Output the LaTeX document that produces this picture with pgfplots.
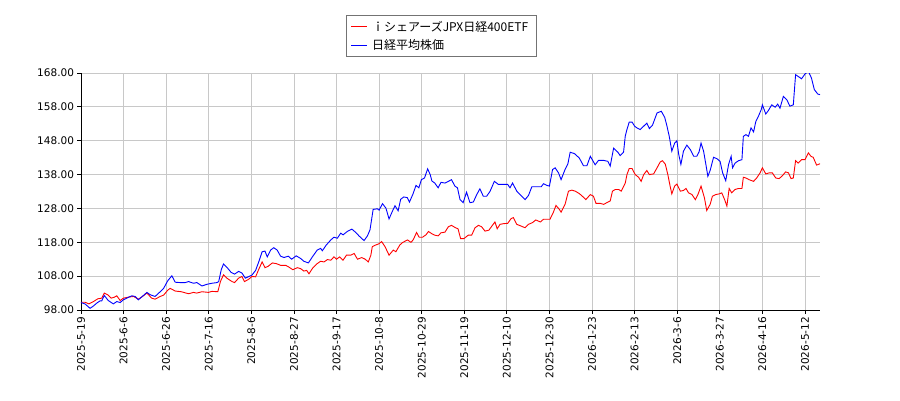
\documentclass[border=0pt]{standalone}
\usepackage{fontspec}
\setmainfont{DejaVu Sans}
\newfontfamily\cjk{Noto Sans CJK JP}
\usepackage{pgfplots}
\pgfplotsset{compat=1.18}
\definecolor{gridgray}{RGB}{200,200,200}

\begin{document}
\begin{tikzpicture}
\useasboundingbox (-81pt,-90pt) rectangle (819pt,310pt);
\begin{axis}[
    scale only axis,
    width=739pt, height=237pt,
    at={(0,0)}, anchor=south west,
    xmin=0, xmax=260.3,
    ymin=98, ymax=168,
    axis x line*=bottom, axis y line*=left,
    axis line style={black, line width=0.8pt},
    tick align=outside,
    major tick length=3.5pt,
    tick style={black, line width=0.8pt},
    xtick={0,15,...,255},
    xticklabels={2025-5-19,2025-6-6,2025-6-26,2025-7-16,2025-8-6,2025-8-27,2025-9-17,2025-10-8,2025-10-29,2025-11-19,2025-12-10,2025-12-30,2026-1-23,2026-2-13,2026-3-6,2026-3-27,2026-4-16,2026-5-12},
    x tick label style={rotate=90, anchor=east},
    ytick={98,108,...,168},
    yticklabel style={/pgf/number format/.cd, fixed, fixed zerofill, precision=2},
    /pgf/number format/assume math mode=true,
    tick label style={font=\fontsize{10.5}{12}\selectfont},
    grid=major,
    grid style={gridgray, line width=0.8pt},
    legend cell align=left,
    legend image code/.code={\draw[#1, line width=1.3pt] (0pt,0pt) -- (16pt,0pt);},
    legend style={at={(0.4878,1.2447)}, anchor=north,
        draw=black!55, fill=white, line width=0.6pt,
        font=\cjk\fontsize{12}{14}\selectfont,
        inner xsep=4pt, inner ysep=3.5pt, row sep=3pt,
        nodes={inner xsep=4pt}},
]
% iシェアーズJPX日経400ETF
\addplot[red, line width=0.9pt] coordinates {
(0,100.3) (1.4,100.3) (2.8,99.8) (4.4,100.5) (5.9,101.3) (7.3,101.5) (8.2,103) (9.4,102.5)
(10.6,101.5) (11.8,101.8) (12.6,102.2) (13.8,100.8) (14.9,101.5) (16.7,101.8) (18.5,102)
(20.2,101.2) (22,102.2) (23.2,103) (24.9,101.5) (26.1,101.2) (27.9,102) (29.1,102.4)
(30.6,103.9) (31.4,104.4) (33.2,103.6) (35.3,103.4) (37.9,102.8) (39.6,103.2) (40.8,103)
(42.6,103.4) (44.9,103.2) (46.1,103.5) (48.2,103.4) (49.1,106.4) (50.2,108.4) (51.4,107.4)
(53.2,106.4) (54.1,106.1) (55.5,107.4) (56.7,107.9) (57.6,106.4) (59.1,107.1) (60.2,107.9)
(61.5,107.8) (62.6,110) (63.8,112.2) (64.8,110.5) (65.9,110.9) (67.4,111.9) (68.8,111.7)
(70.3,111.2) (72.1,111.2) (73.2,110.7) (74.6,109.9) (76.2,110.5) (77.4,110.2) (78.5,109.5)
(79.5,109.7) (80.3,108.7) (81.7,110.5) (83.2,111.7) (84.4,112.4) (85.6,112.2) (86.8,112.9)
(88,112.7) (89.1,113.7) (90,113) (91.1,113.7) (92.3,112.7) (93.5,114.2) (95,114.2)
(96.2,114.7) (97.4,113) (98.9,113.5) (100.1,113) (101.2,112.2) (102.1,114.2) (102.6,116.7)
(103.8,117.2) (104.8,117.5) (105.9,118.2) (107.1,116.7) (108.5,114.2) (110,115.7) (110.9,115.2)
(112.3,117.2) (113.2,117.9) (115,118.7) (116.2,118) (117,118.7) (118.2,120.9) (119.1,119.5)
(120.3,119.5) (121.5,120.2) (122.4,121.2) (123.6,120.5)
(124.6,120.1) (125.8,119.9) (126.8,120.8) (128.2,121) (129.4,122.6) (130.5,123) (131.9,122.3)
(132.8,122) (133.7,119.1) (134.9,119.1) (136.4,120.1) (137.6,120.1) (138.8,122.3) (140,123)
(141.1,122.6) (142.3,121.3) (143.7,121.6) (144.9,123) (145.8,124) (146.6,122) (147.6,123.3)
(148.8,123.5) (150.3,123.6) (151.5,125) (152.3,125.3) (153.5,123.3) (155,122.8) (156.4,122.3)
(157.6,123.3) (159,123.8) (160.2,124.6) (161.8,124) (162.9,124.8) (164.1,124.8) (165.2,124.8)
(166.4,126.9) (167.3,128.9) (168.5,127.7) (169.1,126.9) (170.5,129.2) (171.7,133.1) (172.9,133.4)
(174.1,133.1) (175.5,132.4) (176.6,131.6) (177.8,130.6) (179.4,132.1) (180.5,131.6) (181.4,129.5)
(182.9,129.5) (184.1,129.2) (185.2,129.7) (186.4,130.2) (187.2,133.1) (188.2,133.6) (189.4,133.6)
(190.3,133.1)
(191.7,135.5) (192.3,138) (193.1,139.8) (194.1,139.8) (195.2,138) (196.4,137.2) (197.3,136)
(198.2,138) (199.3,139.2) (200.2,138) (201.7,138.2) (202.9,140) (204,141.7) (204.8,142.1)
(205.8,141.1) (206.7,138) (207.5,134.6) (208.1,132.3) (209.1,134.6) (209.9,135.2) (211.1,133.1)
(212.2,133.3) (213.1,133.9) (214,132.6) (215.2,132.1) (216.4,130.6) (217.3,132.1) (218.4,134.6)
(219.6,131.1) (220.4,127.4) (221.6,129.2) (222.4,131.6) (223.6,132.1) (224.8,132.3) (225.7,132.6)
(226.7,130.6) (227.5,128.7) (228.3,133.9) (229.2,132.6) (230.4,133.6) (231.6,133.9) (232.8,133.9)
(233.3,137.2) (234.2,137) (235.3,136.5) (236.9,136) (238,137) (239.2,138.5) (240,140)
(241.2,138.2) (242.4,138.5) (243.5,138.5) (244.7,137) (245.9,136.8) (247.1,137.7) (248.2,138.8)
(249.2,138.5) (250.1,136.8) (250.9,137) (251.7,142.1) (252.6,141.4) (253.8,142.4) (255,142.4)
(256.2,144.4) (257.1,143.4) (257.9,143.1) (259.1,140.8) (260.3,141.2)
};
\addlegendentry{ｉシェアーズJPX日経400ETF}
% 日経平均株価
\addplot[blue, line width=0.9pt] coordinates {
(0,100.2) (1.4,99.8) (3.2,98.5) (4.4,99.2) (5.5,100) (6.7,100.7) (7.3,100.7) (8.2,102.3)
(9.6,100.8) (11.4,99.8) (12.6,100.5) (13.8,100.2) (14.9,101) (16.1,101.5) (17.9,102.2)
(19.1,102) (20.2,101) (22,102.3) (23.2,103.2) (24.4,102.5) (26.1,102) (27.9,103.4) (29.1,104.4)
(30.6,106.7) (32,108.1) (33.2,106.2) (34.9,106.1) (36.7,106.1) (37.9,106.4) (39.6,105.9)
(40.8,106.1) (42.6,105.1) (44.4,105.6) (46.1,105.9) (47.9,106.1) (48.5,106.4) (49.4,109.9)
(50.2,111.6) (51.4,110.6) (52.9,109.1) (54.1,108.6) (55.5,109.4) (56.7,108.9) (57.9,107.4)
(59.1,107.9) (60.2,108.3)
(61.5,109.7) (62.6,112.2) (63.8,115.2) (64.8,115.4) (65.6,113.7) (66.8,115.7) (67.9,116.4)
(69.1,115.7) (70.3,113.9) (71.5,113.5) (73,113.9) (74.2,113) (75.8,114) (77.4,113.2) (78.5,112.4)
(80.1,111.9) (81.5,113.7) (83.2,115.7) (84.4,116.2) (85,115.5) (86.4,117.2) (88,118.7) (89.1,119.5)
(90.3,119.2) (91.5,120.7) (92.3,120.2) (93.8,121.2) (95.4,121.9) (96.8,120.9) (97.9,119.9)
(99.7,118.5) (100.9,119.9) (101.8,121.7) (102.9,127.7) (104.4,127.9) (105,127.5) (106.2,129.4)
(107.4,128.1) (108.5,124.9) (109.7,127.2) (110.6,128.8) (111.7,127.3) (112.6,130.7) (113.7,131.4)
(114.9,131.2) (115.7,129.9) (116.9,132.2) (118,134.8) (119,134.1) (119.9,136.5) (121,137)
(122.1,139.7) (123,138) (123.6,136.1)
(124.6,135.5) (125.8,134.1) (126.8,135.7) (128.2,135.5) (129.4,136) (130.5,136.5) (131.7,134.6)
(132.6,134.1) (133.5,130.6) (134.6,129.7) (135.8,132.8) (137,129.7) (138.2,129.9) (139.4,132.1)
(140.5,133.8) (141.7,131.6) (142.9,131.6) (144.1,133.1) (145.6,136) (147,135.1) (148.8,135.1)
(150.3,135.1) (151.1,134.1) (152,135.5) (153.5,133.1) (155,131.8) (156.4,130.6) (157.6,131.8)
(158.8,134.4) (160.5,134.4) (162.1,134.4) (162.9,135.3) (164.1,134.8) (165,134.6) (166.1,139.5)
(167,140) (168.2,138.5) (169.1,136.5) (170.5,139.5) (171.5,141.2) (172.3,144.6) (173.8,144.2)
(175.5,142.9) (177,140.6) (178.2,140.6) (179.4,143.4) (181.1,140.9) (182.3,142.2) (184.1,142.2)
(185.6,141.9) (186.4,140.5) (187.6,145.8) (189.1,144.6) (189.9,143.6) (191.1,144.6)
(191.7,149.3) (192.3,151.3) (193.1,153.5) (194.1,153.5) (195,152.3) (195.8,151.8) (197,151.3)
(198.2,152.3) (199.3,153.2) (200.2,151.6) (201.3,152.6) (202.9,156.2) (204.4,156.7) (205.6,154.9)
(206.4,152.3) (207.2,149.3) (208.1,144.9) (209.1,147.3) (209.9,148) (210.5,144.1) (211.3,141)
(212.2,144.9) (213.4,146.7) (214.6,145.4) (215.8,143.4) (216.9,143.4) (217.7,144.7) (218.4,147.3)
(219.3,144.9) (220.1,141) (220.8,137.5) (221.6,139.2) (222.8,143.1) (224,142.7) (225.1,141.9)
(226,138.5) (227.1,136.2) (228.1,141) (229,143.4) (229.5,140) (230.4,141.4) (231.6,142.1)
(232.8,142.4) (233.3,149.3) (234.2,149.8) (235.1,149.3) (236,151.8) (236.9,150.6) (237.7,153.7)
(238.6,155.2) (239.6,157.2) (240,158.6) (241.2,155.9) (242.1,156.9) (243.3,158.6) (244.5,157.9)
(245.4,158.8) (246.2,157.6) (247.4,161.1) (248.6,160.1) (249.7,158.2) (250.9,158.6) (251.7,167.5)
(252.6,167) (253.8,166.3) (255,167.7) (256.2,168.5) (257.3,166.5) (258.3,163.1) (259.5,161.8)
(260.3,161.6)
};
\addlegendentry{日経平均株価}
\end{axis}
\end{tikzpicture}
\end{document}
